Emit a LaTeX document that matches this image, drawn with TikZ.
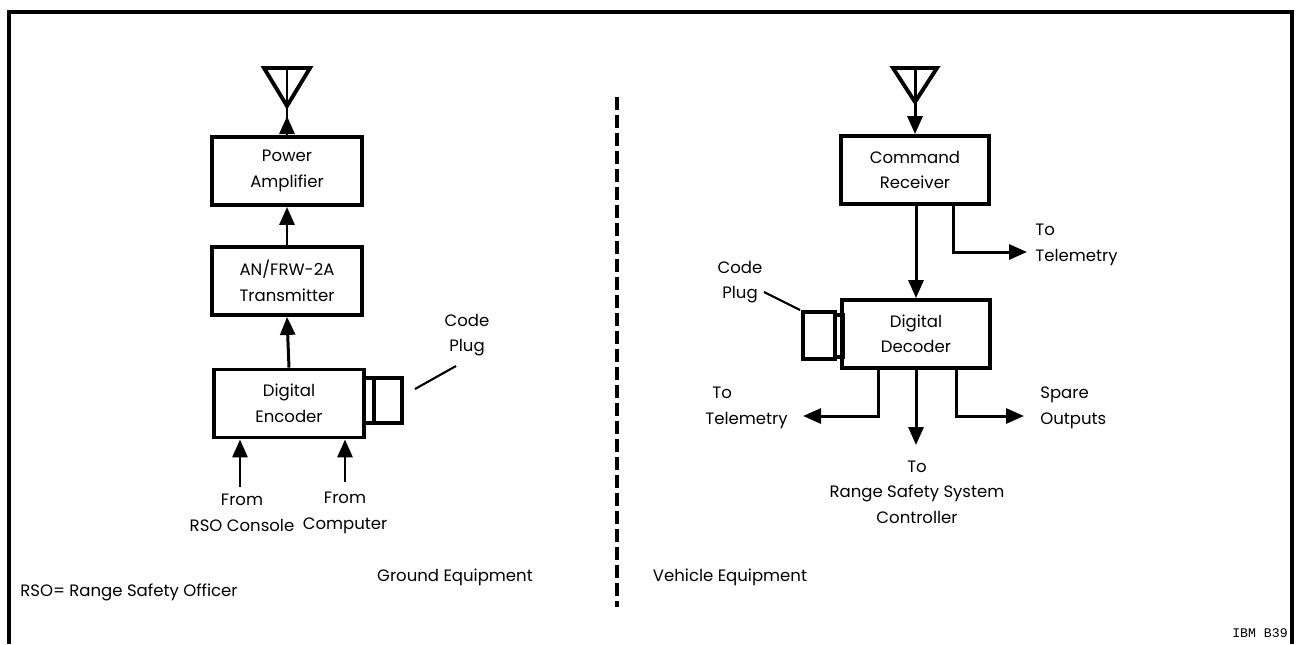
\documentclass[tikz,border=0pt]{standalone}
\usepackage{fontspec}
\setmainfont{Poppins}
\newfontfamily\monof{Liberation Mono}
\usetikzlibrary{arrows.meta}
\newcommand\dtxt{\fontsize{9.4}{14.5}\selectfont}
\begin{document}
\begin{tikzpicture}[x=0.2mm,y=-0.2mm,
  box/.style={draw, line width=2.2pt, minimum width=30mm, minimum height=13.6mm, align=center, font=\dtxt, inner sep=0pt},
  rbox/.style={box, minimum width=29.6mm},
  arr/.style={line width=1.7pt, -{Triangle[length=3.6mm,width=3mm]}},
  ln/.style={line width=1.7pt},
  thin/.style={line width=1.2pt},
  plug/.style={draw, line width=2pt, inner sep=0pt},
  ant/.style={line width=2.2pt, line join=miter},
  lbl/.style={align=center, font=\dtxt, inner sep=0pt},
  lbll/.style={align=left, font=\dtxt, inner sep=0pt, anchor=west}]
\useasboundingbox (0,0) rectangle (1301,644);
% frame
\draw[line width=2.2pt] (9,644) -- (9,12) -- (1292,12) -- (1292,644);
% divider
\draw[line width=2.4pt, dash pattern=on 2.6mm off 1mm] (617,97) -- (617,607);

% ---------- ground equipment ----------
\coordinate (antL) at (287,106);
\coordinate (antLtop) at (287,68);
\draw[ant] (264,68) -- (310,68) -- (antL) -- cycle;
\draw[ln] (antLtop) -- (antL);
\node[box] (pa) at (287,171) {Power\\Amplifier};
\node[box] (tx) at (287,281) {AN/FRW-2A\\Transmitter};
\node[box] (enc) at (289,403.5) {Digital\\Encoder};
\coordinate (antLarr) at (287,116);
\draw[ln] (pa.north) -- (antL);
\draw[arr] (pa.north) -- (antLarr);
\draw[arr] (tx.north) -- (pa.south);
\draw[arr] (enc.north) -- (tx.south);
% code plug (ground)
\node[plug, minimum width=5.6mm, minimum height=9mm] (plugL) at (388,400.5) {};
\draw[plug] (364,378) rectangle (374,423);
\coordinate (cpL1) at (415,389);
\coordinate (cpL2) at (456,366);
\draw[thin] (cpL1) -- (cpL2);
\node[lbl] (cpLt) at (467,335) {Code\\Plug};
% inputs
\node[lbl] (rso) at (242,513) {From\\RSO Console};
\node[lbl] (comp) at (345,513) {From\\Computer};
\draw[arr] (240,487) -- (enc.south -| 240,0);
\draw[arr] (345,482) -- (enc.south -| comp);

% ---------- vehicle equipment ----------
\coordinate (antR) at (915,102);
\coordinate (antRtop) at (915,68);
\draw[ant] (893,68) -- (937,68) -- (antR) -- cycle;
\draw[ln] (antRtop) -- (antR);
\node[rbox] (rcv) at (915,170) {Command\\Receiver};
\node[rbox] (dec) at (916,334) {Digital\\Decoder};
\draw[arr] (antR) -- (rcv.north);
\draw[arr] (rcv.south -| dec.north) -- (dec.north);
\coordinate (telR) at (1027,252);
\draw[arr] ([xshift=7.6mm]rcv.south) |- (telR);
\node[lbll] (telRt) at (1035,245) {To\\Telemetry};
% code plug (vehicle)
\node[plug, minimum width=6.4mm, minimum height=9.4mm] (plugR) at (819,335.5) {};
\draw[plug] (835,315) rectangle (843,357);
\coordinate (cpR1) at (800,310);
\coordinate (cpR2) at (764,292);
\draw[thin] (cpR1) -- (cpR2);
\node[lbl] (cpRt) at (740,282) {Code\\Plug};
% outputs
\coordinate (telL) at (803,416);
\coordinate (rss) at (916,445);
\coordinate (spare) at (1024,416);
\draw[arr] ([xshift=-7.6mm]dec.south) |- (telL);
\draw[arr] (dec.south) -- (rss);
\draw[arr] ([xshift=8mm]dec.south) |- (spare);
\node[lbll] (telLt) at (705,408) {\hspace{1.4mm}To\\Telemetry};
\node[lbll] (spt) at (1040,408) {Spare\\Outputs};
\node[lbl] (rsst) at (917,492) {To\\Range Safety System\\Controller};

% captions
\node[lbl] (ge) at (455,577) {Ground Equipment};
\node[lbl] (ve) at (730,577) {Vehicle Equipment};
\node[lbll] (rsodef) at (20,592) {RSO= Range Safety Officer};
\node[inner sep=0pt, anchor=east, font=\monof\fontsize{7.5}{9}\selectfont] (ibm) at (1288,633) {IBM B39};
\end{tikzpicture}
\end{document}
